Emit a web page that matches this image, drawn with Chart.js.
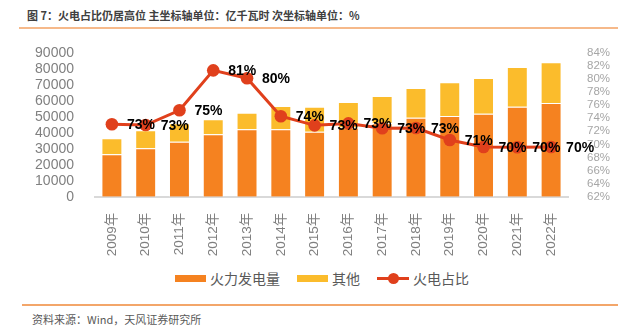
<!DOCTYPE html>
<html>
<head>
<meta charset="utf-8">
<script src="https://cdn.jsdelivr.net/npm/chart.js@4"></script>
<style>
  body { margin: 0; width: 618px; height: 327px; background: #fff; position: relative; overflow: hidden;
         font-family: "Liberation Sans", "Noto Sans CJK SC", sans-serif; }
  #title { position: absolute; left: 27px; top: 7px; font-size: 11px; font-weight: bold; color: #404040;
           font-family: "Noto Sans CJK SC", sans-serif; white-space: pre; }
  #topLine { position: absolute; left: 19px; right: 0; top: 27px; height: 2px; background: #f6b98a; }
  #wrap { position: absolute; left: 0; top: 30px; width: 618px; height: 227px; }
  #legend { position: absolute; left: 175px; top: 268px; display: flex; align-items: center;
            font-family: "Noto Sans CJK SC", sans-serif; font-size: 14px; color: #595959; }
  #legend .item { display: flex; align-items: center; margin-right: 17px; }
  #legend .sw { width: 31px; height: 7px; margin-right: 4px; }
  #legend .ln { width: 32px; height: 12px; margin-right: 4px; position: relative; }
  #botLine { position: absolute; left: 22px; right: 0; top: 304px; height: 2px; background: #f3a66a; }
  #source { position: absolute; left: 32px; top: 311px; font-size: 11px; color: #595959;
            font-family: "Noto Sans CJK SC", sans-serif; }
</style>
</head>
<body>
<div id="title">图 7：火电占比仍居高位 主坐标轴单位：亿千瓦时 次坐标轴单位：%</div>
<div id="topLine"></div>
<div id="wrap"><canvas id="c"></canvas></div>
<div id="legend"></div>
<div id="botLine"></div>
<div id="source">资料来源：Wind，天风证券研究所</div>
<script>
const years = ["2009年","2010年","2011年","2012年","2013年","2014年","2015年","2016年","2017年","2018年","2019年","2020年","2021年","2022年"];
const thermal = [26500, 30250, 34400, 39000, 42100, 42100, 40600, 43200, 45900, 49400, 50400, 51900, 56250, 58550];
const others  = [10000, 11250, 11500,  9400, 10400, 14600, 15650, 16000, 17000, 18500, 21100, 22300, 24750, 25450];
const share   = [73.06, 72.95, 75.2, 81.3, 80.1, 74.3, 72.9, 73.2, 72.45, 72.5, 70.66, 69.6, 69.55, 69.6];
const shareLabels = ["73%","73%","75%","81%","80%","74%","73%","73%","73%","73%","71%","70%","70%","70%"];
const leftTicks = { min: 0, max: 90000, step: 10000 };
const rightTicks = { min: 62, max: 84, step: 2 };

const ORANGE = "#f58220", YELLOW = "#fbbc2c", RED = "#e0401c";

// plot area pinned to the reference: top 52.7px, bottom 196.7px of the page
const plotTop = 22.7, plotBottomGap = 60.3;

const pointLabels = {
  id: "pointLabels",
  afterDatasetsDraw(chart) {
    const meta = chart.getDatasetMeta(2);
    const ctx = chart.ctx;
    ctx.save();
    ctx.font = "bold 14px 'Liberation Sans', sans-serif";
    ctx.fillStyle = "#000";
    ctx.textAlign = "left";
    ctx.textBaseline = "middle";
    meta.data.forEach((pt, i) => {
      ctx.fillText(shareLabels[i], pt.x + 15, pt.y + 1);
    });
    ctx.restore();
  }
};

const chart = new Chart(document.getElementById("c"), {
  type: "bar",
  data: {
    labels: years,
    datasets: [
      { label: "火力发电量", data: thermal, backgroundColor: ORANGE, borderColor: "rgba(255,255,255,0.45)",
        borderWidth: 1, stack: "s", yAxisID: "y", order: 2, categoryPercentage: 1, barPercentage: 0.62 },
      { label: "其他", data: others, backgroundColor: YELLOW, borderColor: "rgba(255,255,255,0.45)",
        borderWidth: 1, stack: "s", yAxisID: "y", order: 2, categoryPercentage: 1, barPercentage: 0.62 },
      { label: "火电占比", type: "line", data: share, borderColor: RED, backgroundColor: RED,
        borderWidth: 3, pointRadius: 6.3, pointHoverRadius: 6.3, pointBackgroundColor: RED,
        pointBorderWidth: 0, yAxisID: "y1", order: 1, tension: 0 }
    ]
  },
  options: {
    responsive: true,
    maintainAspectRatio: false,
    animation: false,
    layout: { padding: { top: plotTop, left: 0, right: 0, bottom: 0 } },
    plugins: { legend: { display: false }, tooltip: { enabled: false } },
    scales: {
      x: {
        stacked: true,
        grid: { display: false },
        border: { display: true, color: "#d9d9d9", width: 2 },
        ticks: { minRotation: 90, maxRotation: 90, autoSkip: false, padding: 8, color: "#7f7f7f",
                 font: { size: 13.5, family: "'Liberation Sans', 'Noto Sans CJK SC', sans-serif" } },
        afterFit: s => { s.height = plotBottomGap; }
      },
      y: {
        position: "left",
        stacked: true,
        min: leftTicks.min, max: leftTicks.max,
        grid: { display: false },
        border: { display: false },
        ticks: { stepSize: leftTicks.step, autoSkip: false, padding: 13, color: "#808080",
                 callback: v => String(v),
                 font: { size: 14, family: "'Liberation Sans', sans-serif" } },
        afterFit: s => { s.width = 95; }
      },
      y1: {
        position: "right",
        min: rightTicks.min, max: rightTicks.max,
        grid: { display: false },
        border: { display: false },
        ticks: { stepSize: rightTicks.step, autoSkip: false, padding: 11, color: "#a6a6a6",
                 callback: v => v + "%",
                 font: { size: 11.5, family: "'Liberation Sans', sans-serif" } },
        afterFit: s => { s.width = 50; }
      }
    }
  },
  plugins: [pointLabels]
});

// legend built from the datasets
const legend = document.getElementById("legend");
chart.data.datasets.forEach(ds => {
  const item = document.createElement("div");
  item.className = "item";
  if (ds.type === "line") {
    item.innerHTML = '<div class="ln"><div style="position:absolute;left:0;right:0;top:5px;height:3px;background:' + RED +
      '"></div><div style="position:absolute;left:11px;top:1px;width:11px;height:11px;border-radius:50%;background:' + RED + '"></div></div>';
  } else {
    item.innerHTML = '<div class="sw" style="background:' + ds.backgroundColor + '"></div>';
  }
  const t = document.createElement("span");
  t.textContent = ds.label;
  item.appendChild(t);
  legend.appendChild(item);
});
</script>
</body>
</html>
